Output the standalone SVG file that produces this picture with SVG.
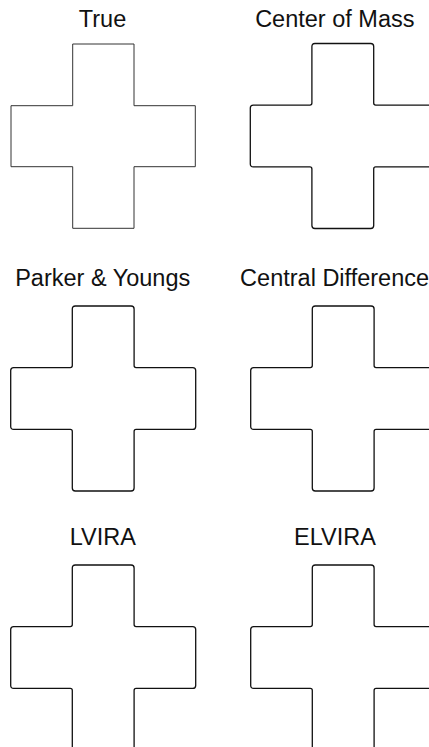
<svg xmlns="http://www.w3.org/2000/svg" width="429" height="747" viewBox="0 0 429 747">
<style>
.t{font-family:"Liberation Sans",Arial,sans-serif;font-size:23.5px;fill:#111;text-anchor:middle}
.sharp{fill:none;stroke:#333;stroke-width:1}
.round{fill:none;stroke:#111;stroke-width:1.3}
</style>
<defs>
<path id="crossR" d="M64.6,0 H120.4 Q123.4,0 123.4,3 V59.6 Q123.4,61.6 125.4,61.6 H182 Q185,61.6 185,64.6 V120.4 Q185,123.4 182,123.4 H125.4 Q123.4,123.4 123.4,125.4 V182 Q123.4,185 120.4,185 H64.6 Q61.6,185 61.6,182 V125.4 Q61.6,123.4 59.6,123.4 H3 Q0,123.4 0,120.4 V64.6 Q0,61.6 3,61.6 H59.6 Q61.6,61.6 61.6,59.6 V3 Q61.6,0 64.6,0 Z"/>
</defs>
<g id="true">
<text class="t" x="102.5" y="26.7">True</text>
<path class="sharp" d="M72.7,44 H134 V105.7 H195.3 V166.7 H134 V228.3 H72.7 V166.7 H11 V105.7 H72.7 Z"/>
</g>
<g id="center-of-mass">
<text class="t" x="334.8" y="26.7">Center of Mass</text>
<use href="#crossR" class="round" transform="translate(250.3,43.5)"/>
</g>
<g id="parker-youngs">
<text class="t" x="102.7" y="285.7">Parker &amp; Youngs</text>
<use href="#crossR" class="round" transform="translate(10.7,306)"/>
</g>
<g id="central-difference">
<text class="t" x="334.6" y="285.7">Central Difference</text>
<use href="#crossR" class="round" transform="translate(250.7,306)"/>
</g>
<g id="lvira">
<text class="t" x="102.8" y="545">LVIRA</text>
<use href="#crossR" class="round" transform="translate(10.7,565)"/>
</g>
<g id="elvira">
<text class="t" x="335" y="545">ELVIRA</text>
<use href="#crossR" class="round" transform="translate(250.7,565)"/>
</g>
<g id="connectors"/>
</svg>
